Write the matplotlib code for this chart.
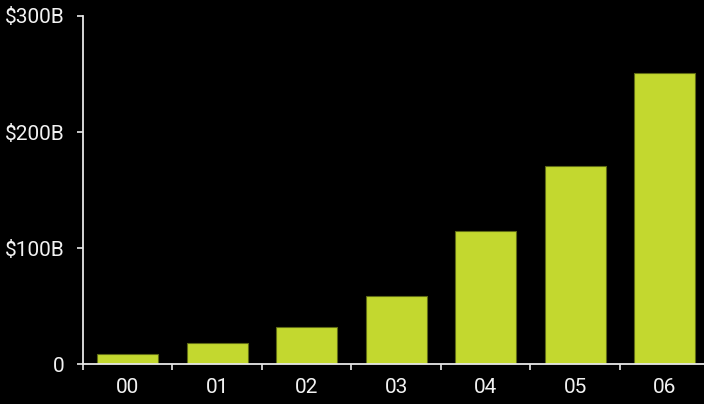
import matplotlib
matplotlib.use('Agg')
import matplotlib.pyplot as plt
import numpy as np

# values in billions of dollars
years = ['00', '01', '02', '03', '04', '05', '06']
values = [9, 18, 32, 59, 115, 171, 251]
ytick_vals = [0, 100, 200, 300]
ytick_labels = ['0', '$100B', '$200B', '$300B']

plt.rcParams['font.family'] = ['Roboto', 'DejaVu Sans']

fig = plt.figure(figsize=(7.04, 4.04), dpi=100, facecolor='black')
ax = fig.add_axes([83 / 704, 40 / 404, 621 / 704, 348 / 404])
ax.set_facecolor('black')

x = np.arange(len(years))
ax.bar(x, values, width=0.68, color='#c3d82f', edgecolor='#5f6b16', linewidth=0.8, zorder=2)

ax.set_xlim(-0.5, 6.44)
ax.set_ylim(0, 300)

axis_col = '#e8e8e8'
for side in ['top', 'right']:
    ax.spines[side].set_visible(False)
for side in ['left', 'bottom']:
    ax.spines[side].set_color(axis_col)
    ax.spines[side].set_linewidth(1.3)
    ax.spines[side].set_zorder(3)

ax.set_yticks(ytick_vals)
ax.set_yticklabels(ytick_labels)
ax.tick_params(axis='y', colors=axis_col, length=4, width=1.2, pad=9,
               labelsize=15, labelcolor='#f2f2f2')

# category labels at centers, boundary ticks between them
ax.set_xticks(x)
ax.set_xticklabels(years)
ax.tick_params(axis='x', which='major', length=0, pad=10,
               labelsize=15, labelcolor='#f2f2f2')
ax.set_xticks(np.arange(-0.5, 6, 1), minor=True)
ax.tick_params(axis='x', which='minor', colors=axis_col, length=4, width=1.2)

fig.savefig('out.png', dpi=100, facecolor='black')
